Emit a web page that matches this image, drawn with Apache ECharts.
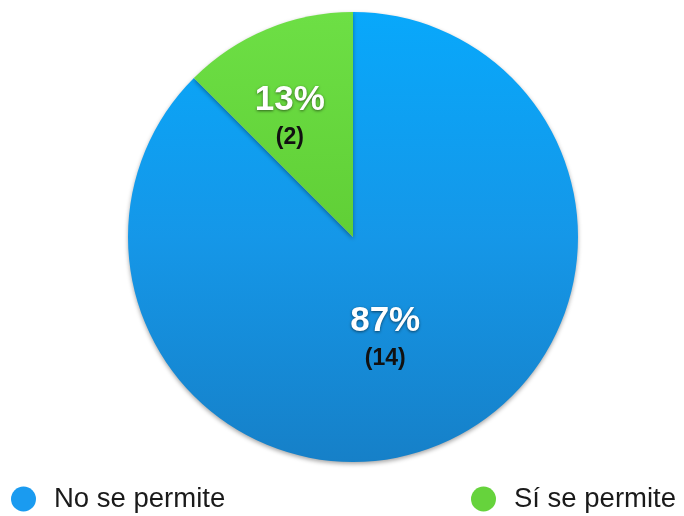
<!DOCTYPE html>
<html>
<head>
<meta charset="utf-8">
<script src="https://cdn.jsdelivr.net/npm/echarts@6/dist/echarts.min.js"></script>
<style>html,body{margin:0;padding:0;background:#fff}#c{width:684px;height:516px}</style>
</head>
<body>
<div id="c"></div>
<script>
var categories = ["No se permite", "Sí se permite"];
var counts = [14, 2];
var percents = ["87%", "13%"];

var colors = [
  new echarts.graphic.LinearGradient(0, 0, 0, 1, [{offset: 0, color: '#08a8fb'}, {offset: 0.5, color: '#1597e8'}, {offset: 1, color: '#1680c8'}]),
  new echarts.graphic.LinearGradient(0, 0, 0, 1, [{offset: 0, color: '#6ddf45'}, {offset: 1, color: '#60cf36'}])
];
var legendColors = ['#1a9bf0', '#66d33c'];
var labelOffsets = [[-12, -3], [-19, -11]];

var chart = echarts.init(document.getElementById('c'));
var data = categories.map(function (c, i) {
  return {
    name: c,
    value: counts[i],
    itemStyle: {color: colors[i]},
    label: {offset: labelOffsets[i]}
  };
});
var legendText = {fontFamily: 'Liberation Sans, Arial, sans-serif', fontSize: 27.5, color: '#1a1a1a', padding: [0, 0, 0, 13]};
chart.setOption({
  animation: false,
  color: legendColors,
  legend: [
    {
      data: [{name: categories[0], itemStyle: {color: legendColors[0]}}],
      left: 11, top: 485, padding: 0, icon: 'circle', itemWidth: 25, itemHeight: 25,
      textStyle: legendText
    },
    {
      data: [{name: categories[1], itemStyle: {color: legendColors[1]}}],
      left: 471, top: 485, padding: 0, icon: 'circle', itemWidth: 25, itemHeight: 25,
      textStyle: legendText
    }
  ],
  series: [{
    type: 'pie',
    center: [353, 237],
    radius: 225,
    startAngle: 90,
    clockwise: true,
    data: data,
    itemStyle: {shadowBlur: 4, shadowColor: 'rgba(0,0,0,0.35)', shadowOffsetY: 2},
    emphasis: {disabled: true},
    label: {
      position: 'inside',
      formatter: function (p) {
        return '{a|' + percents[p.dataIndex] + '}\n{b|(' + p.value + ')}';
      },
      rich: {
        a: {fontFamily: 'Liberation Sans, Arial, sans-serif', fontSize: 35, fontWeight: 'bold', color: '#ffffff', lineHeight: 36,
            textShadowColor: 'rgba(0,0,0,0.55)', textShadowBlur: 3, textShadowOffsetY: 1},
        b: {fontFamily: 'Liberation Sans, Arial, sans-serif', fontSize: 23, fontWeight: 'bold', color: '#111111', lineHeight: 38}
      }
    },
    labelLine: {show: false}
  }]
});
</script>
</body>
</html>
